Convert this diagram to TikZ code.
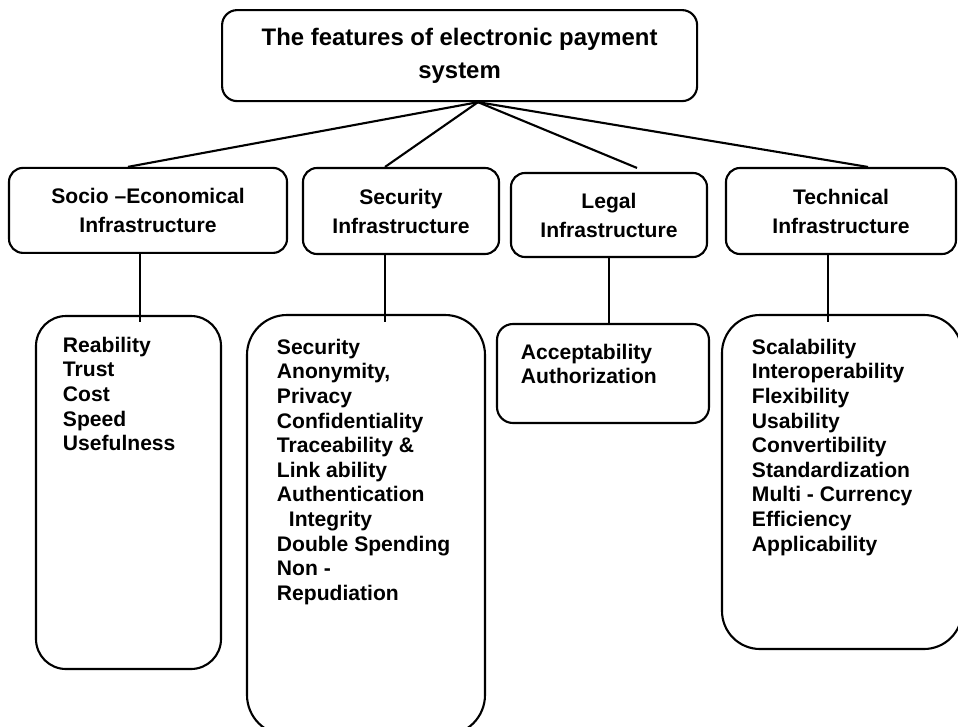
\documentclass[tikz,border=0pt]{standalone}
\usepackage{fontspec}
\setmainfont{Liberation Sans}
\usetikzlibrary{positioning}

\begin{document}
\begin{tikzpicture}[line width=1.5pt,
  headbox/.style={draw, rounded corners=0.35cm, align=center, inner sep=0pt,
    font=\fontsize{15}{20.6}\selectfont\bfseries},
  listbox/.style={draw, rounded corners=#1, inner sep=0pt},
  listtext/.style={align=left, inner sep=0pt, outer sep=0pt,
    font=\fontsize{15}{17.5}\selectfont\bfseries}]

% Page
\fill[white] (0,0) rectangle (23.95,-18.15);
\useasboundingbox (0,0) rectangle (23.95,-18.15);
\clip (0,0) rectangle (23.95,-18.15);

%%% Root %%%
\node[headbox, rounded corners=0.375cm, minimum width=11.875cm, minimum height=2.275cm,
  font=\fontsize{17}{23.4}\selectfont\bfseries] (root) at (11.49,-1.39)
  {The features of electronic payment\\system};

%%% Infrastructure boxes %%%
\node[headbox, minimum width=6.95cm, minimum height=2.125cm] (socio) at (3.70,-5.26)
  {Socio –Economical\\Infrastructure};
\node[headbox, minimum width=4.9cm, minimum height=2.15cm] (secur) at (10.025,-5.275)
  {Security\\Infrastructure};
\node[headbox, minimum width=4.9cm, minimum height=2.1cm] (legal) at (15.225,-5.375)
  {Legal\\Infrastructure};
\node[headbox, minimum width=5.75cm, minimum height=2.15cm] (techn) at (21.025,-5.275)
  {Technical\\Infrastructure};

%%% Feature lists %%%
\node[listbox=0.75cm, minimum width=4.625cm, minimum height=8.825cm] (reab) at (3.2125,-12.3125) {};
\node[listbox=1cm, minimum width=5.95cm, minimum height=10.5cm] (secl) at (9.15,-13.125) {};
\node[listbox=0.4cm, minimum width=5.3cm, minimum height=2.475cm] (accp) at (15.075,-9.3375) {};
\node[listbox=0.95cm, minimum width=6.0cm, minimum height=8.35cm] (tecl) at (21.05,-12.05) {};

\node[listtext, below right=5.5mm and 7mm of reab.north west] (reabtxt)
  {Reability\\Trust\\Cost\\Speed\\Usefulness};
\node[listtext, below right=6.25mm and 7.75mm of secl.north west] (secltxt)
  {Security\\Anonymity,\\Privacy\\Confidentiality\\Traceability \&\\Link ability\\
   Authentication\\\hspace*{3mm}Integrity\\Double Spending\\Non -\\Repudiation};
\node[listtext, below right=5.25mm and 6.25mm of accp.north west] (accptxt)
  {Acceptability\\Authorization};
\node[listtext, below right=6.25mm and 7.75mm of tecl.north west] (tecltxt)
  {Scalability\\Interoperability\\Flexibility\\Usability\\Convertibility\\
   Standardization\\Multi - Currency\\Efficiency\\Applicability};

%%% Connectors %%%
\coordinate (hub) at ([xshift=4.6mm]root.south);
\draw (hub) -- ([xshift=-5mm]socio.north);
\draw (hub) -- ([xshift=-4mm]secur.north);
\draw (hub) -- ([xshift=7mm, yshift=1mm]legal.north);
\draw (hub) -- ([xshift=6.75mm]techn.north);

\coordinate (sociodrop) at ([xshift=-2mm]socio.south);
\coordinate (securdrop) at ([xshift=-4mm]secur.south);
\coordinate (techndrop) at ([xshift=-3.25mm]techn.south);
\draw (sociodrop) -- (sociodrop |- reab.north) -- ++(0,-1.75mm);
\draw (securdrop) -- (securdrop |- secl.north) -- ++(0,-2mm);
\draw (legal.south) -- (legal.south |- accp.north);
\draw (techndrop) -- (techndrop |- tecl.north) -- ++(0,-2mm);

\end{tikzpicture}
\end{document}
